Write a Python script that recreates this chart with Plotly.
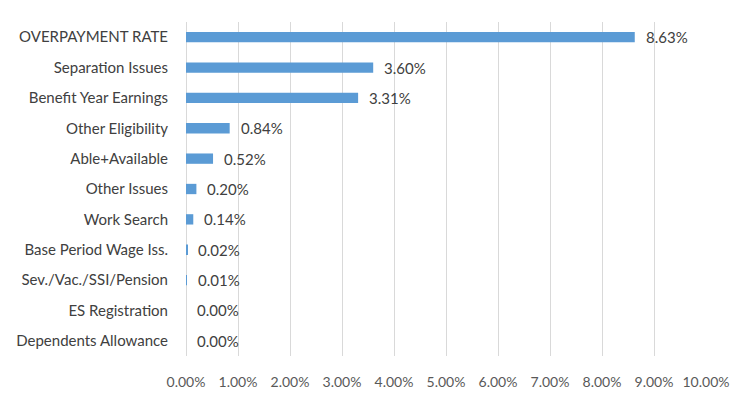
import plotly.graph_objects as go

categories = ["OVERPAYMENT RATE", "Separation Issues", "Benefit Year Earnings",
              "Other Eligibility", "Able+Available", "Other Issues", "Work Search",
              "Base Period Wage Iss.", "Sev./Vac./SSI/Pension", "ES Registration",
              "Dependents Allowance"]
values = [8.63, 3.60, 3.31, 0.84, 0.52, 0.20, 0.14, 0.02, 0.01, 0.00, 0.00]
tick_vals = [0, 1, 2, 3, 4, 5, 6, 7, 8, 9, 10]
tick_text = ["0.00%", "1.00%", "2.00%", "3.00%", "4.00%", "5.00%", "6.00%",
             "7.00%", "8.00%", "9.00%", "10.00%"]

fig = go.Figure(go.Bar(
    x=values, y=categories, orientation="h",
    marker=dict(color="#5B9BD5", line=dict(width=0)),
    width=0.34,
    cliponaxis=False,
))

for v, c in zip(values, categories):
    fig.add_annotation(x=v, y=c, xref="x", yref="y", text=f"{v:.2f}%",
                       showarrow=False, xanchor="left", yanchor="middle",
                       xshift=9, yshift=0,
                       font=dict(family="Lato", size=15, color="#404040"))

fig.update_layout(
    width=750, height=397,
    margin=dict(l=186, r=44, t=22, b=41),
    paper_bgcolor="white", plot_bgcolor="white",
    font=dict(family="Lato", size=14, color="#404040"),
    showlegend=False,
)
fig.update_xaxes(range=[0, 10], tickvals=tick_vals, ticktext=tick_text,
                 showgrid=True, gridcolor="#d9d9d9", gridwidth=1,
                 zeroline=True, zerolinecolor="#d9d9d9", zerolinewidth=1,
                 showline=False, ticks="outside", ticklen=13, tickcolor="rgba(0,0,0,0)",
                 automargin=False,
                 tickfont=dict(family="Lato", size=14, color="#595959"))
fig.update_yaxes(autorange="reversed", showgrid=False, showline=False,
                 ticks="outside", ticklen=14, tickcolor="rgba(0,0,0,0)",
                 automargin=False,
                 tickfont=dict(family="Lato", size=15, color="#404040"))

fig.write_html("out.html", config={"displayModeBar": False},
               post_script="document.body.style.margin='0';")
